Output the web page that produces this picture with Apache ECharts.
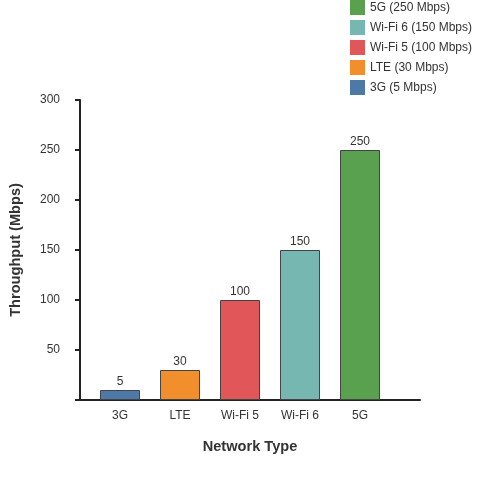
<!DOCTYPE html>
<html>
<head>
<meta charset="utf-8">
<script src="https://cdn.jsdelivr.net/npm/echarts@6/dist/echarts.min.js"></script>
<style>
html, body { margin: 0; padding: 0; background: #fff; }
#main { width: 500px; height: 500px; }
</style>
</head>
<body>
<div id="main"></div>
<script>
var categories = ['3G', 'LTE', 'Wi-Fi 5', 'Wi-Fi 6', '5G'];
var values = [5, 30, 100, 150, 250];
var colors = ['#4e79a7', '#f28e2b', '#e15759', '#76b7b2', '#59a14f'];
var yTicks = [0, 300, 50];  // min, max, interval

var font = 'Liberation Sans, Arial, sans-serif';
var chart = echarts.init(document.getElementById('main'));

// one series per category so the legend gets its own entry
var series = categories.map(function (c, i) {
    var d = categories.map(function (x, j) { return j === i ? values[i] : '-'; });
    return {
        name: c + ' (' + values[i] + ' Mbps)',
        type: 'bar',
        stack: 'all',
        xAxisIndex: 1,
        yAxisIndex: 1,
        barWidth: 40,
        barMinHeight: 10,
        data: d,
        itemStyle: { color: colors[i], borderColor: '#444', borderWidth: 1 },
        label: {
            show: true, position: 'top', distance: 2,
            color: '#333', fontSize: 12, fontFamily: font
        }
    };
});

var option = {
    animation: false,
    legend: {
        orient: 'vertical',
        left: 350, top: 0, padding: 0,
        itemWidth: 15, itemHeight: 15, itemGap: 5,
        icon: 'rect',
        itemStyle: { borderWidth: 0 },
        textStyle: { fontSize: 12, color: '#333', fontFamily: font },
        data: series.map(function (s) { return s.name; }).reverse()
    },
    grid: [
        { left: 80, width: 340, top: 100, height: 300 },  // axis lines
        { left: 90, width: 300, top: 100, height: 300 }   // bars
    ],
    xAxis: [
        {
            type: 'value', gridIndex: 0, min: 0, max: 1,
            name: 'Network Type', nameLocation: 'middle', nameGap: 39,
            nameTextStyle: { fontSize: 14.6, fontWeight: 'bold', color: '#333', fontFamily: font },
            axisLine: { lineStyle: { color: '#222', width: 2 } },
            axisTick: { show: false }, axisLabel: { show: false }, splitLine: { show: false }
        },
        {
            type: 'category', gridIndex: 1, data: categories,
            axisLine: { show: false }, axisTick: { show: false },
            axisLabel: { color: '#333', fontSize: 12, margin: 10, fontFamily: font }
        }
    ],
    yAxis: [
        {
            type: 'value', gridIndex: 0, min: yTicks[0], max: yTicks[1], interval: yTicks[2],
            name: 'Throughput (Mbps)', nameLocation: 'middle', nameGap: 57,
            nameTextStyle: { fontSize: 14.6, fontWeight: 'bold', color: '#333', fontFamily: font },
            axisLine: { show: true, lineStyle: { color: '#222', width: 2 } },
            axisTick: { show: true, length: 5, lineStyle: { color: '#222', width: 2 } },
            axisLabel: {
                color: '#333', fontSize: 12, margin: 20, fontFamily: font,
                formatter: function (v) { return v === 0 ? '' : v; }
            },
            splitLine: { show: false }
        },
        {
            type: 'value', gridIndex: 1, min: yTicks[0], max: yTicks[1],
            show: false
        }
    ],
    series: series
};
chart.setOption(option);
</script>
</body>
</html>
